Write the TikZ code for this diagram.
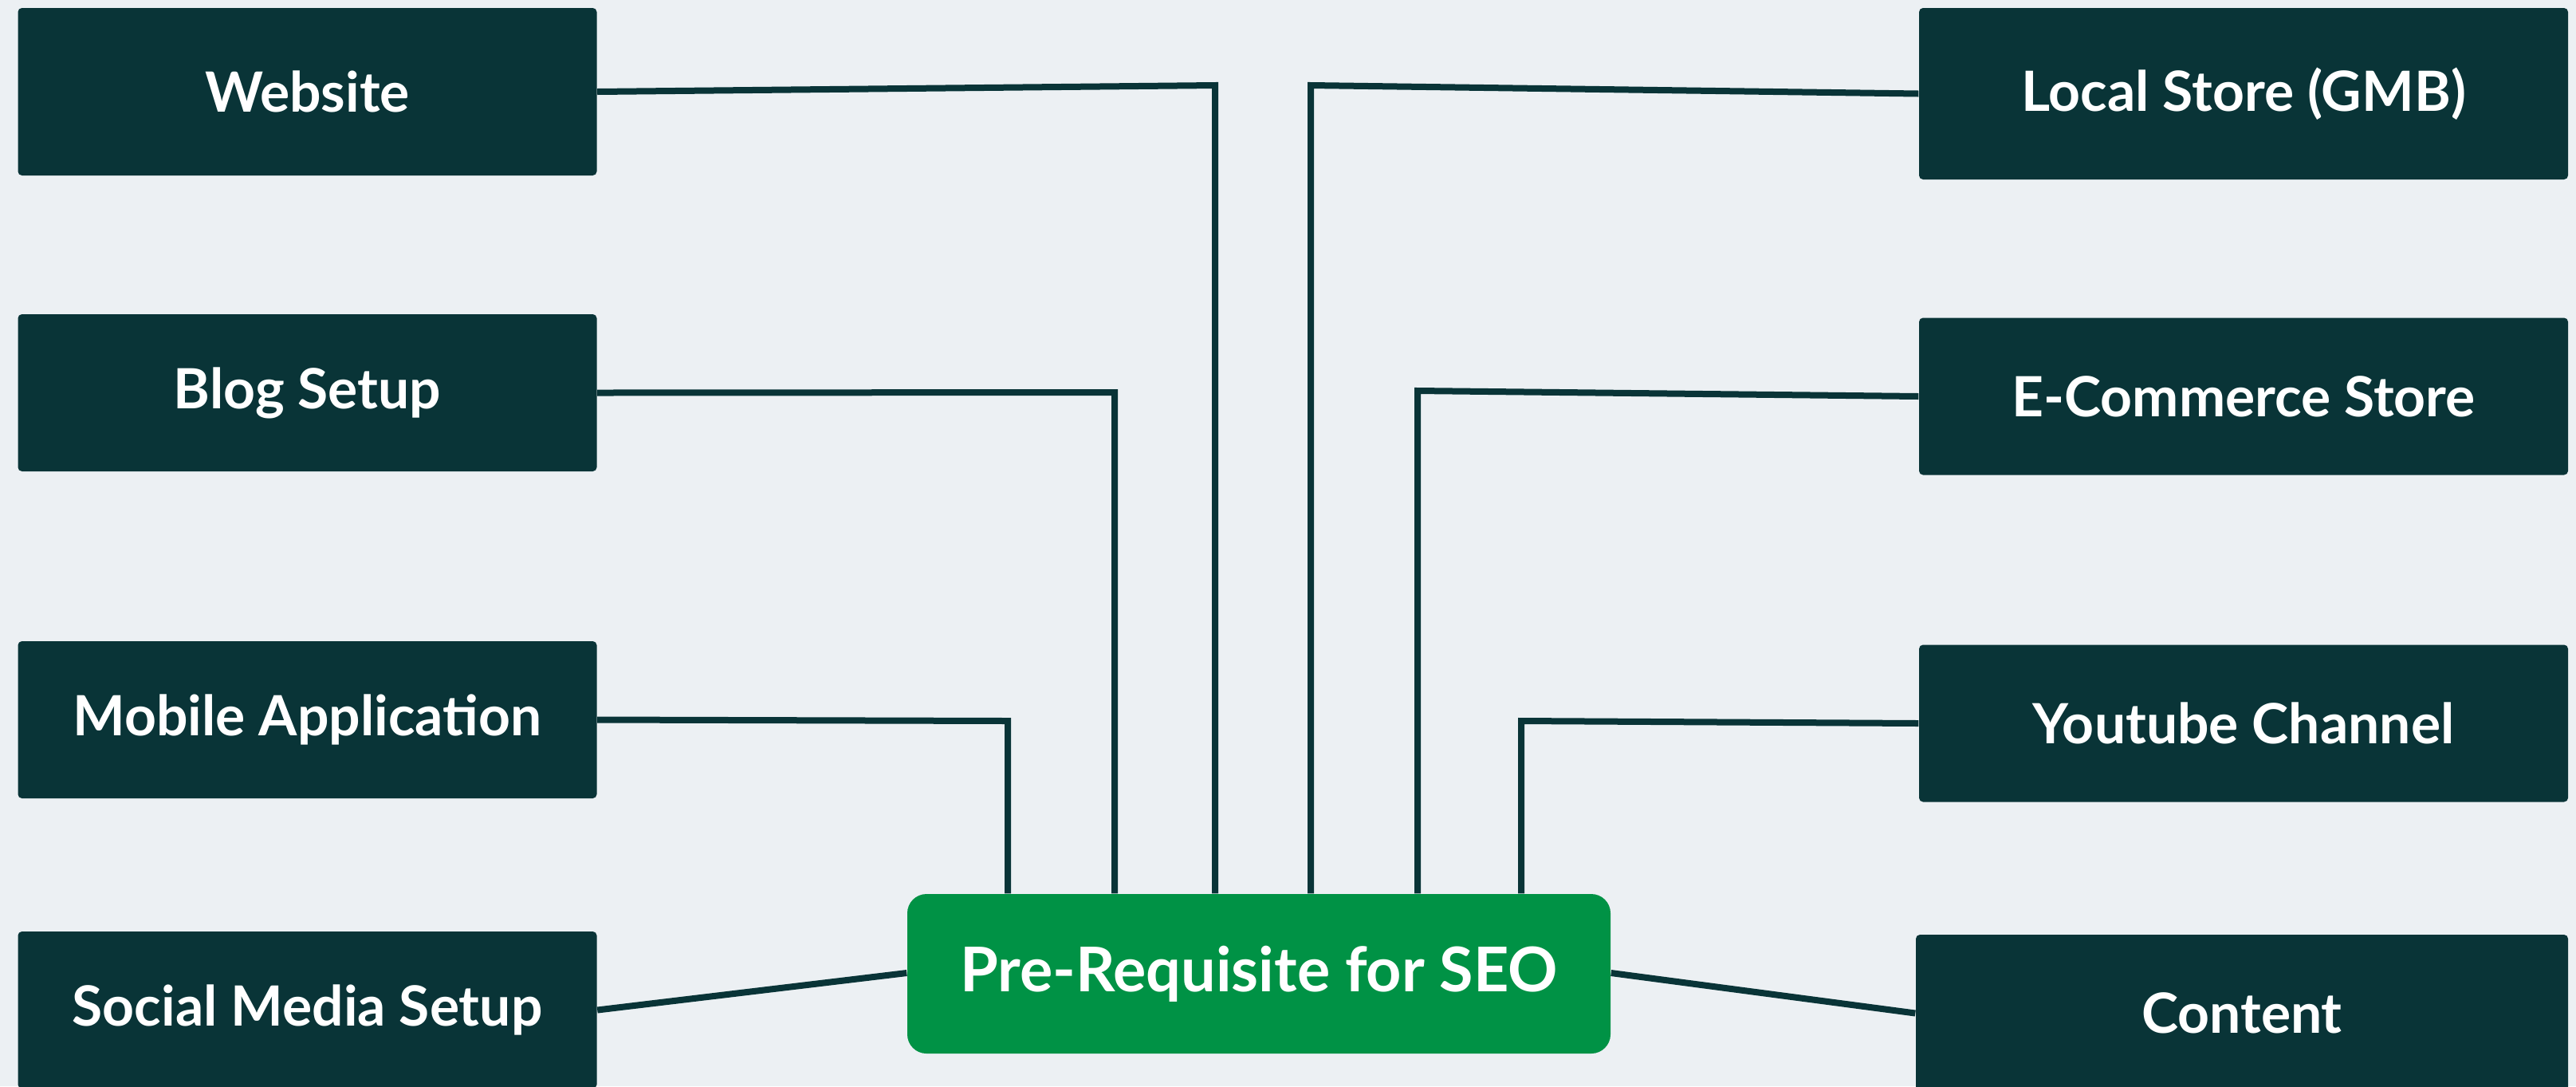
\documentclass[tikz,border=0pt]{standalone}
\usepackage{fontspec}
\setmainfont{Lato}
\definecolor{bgcol}{RGB}{236,240,243}
\definecolor{darkteal}{RGB}{9,52,55}
\definecolor{seogreen}{RGB}{0,146,69}
\tikzset{
  topic/.style={fill=darkteal,rounded corners=0.05cm,text=white,
    minimum width=7.26cm,minimum height=1.97cm,inner sep=0pt,
    font=\fontsize{19.8}{24}\selectfont\bfseries},
  hub/.style={fill=seogreen,rounded corners=0.24cm,text=white,
    minimum width=8.82cm,minimum height=2.0cm,inner sep=0pt,
    font=\fontsize{22}{26}\selectfont\bfseries},
  link/.style={draw=darkteal,line width=0.08cm}
}
\begin{document}
\begin{tikzpicture}
\useasboundingbox (0,0) rectangle (32.31,-13.62);
\clip (0,0) rectangle (32.31,-13.62);
\fill[bgcol] (0,0) rectangle (32.31,-13.62);

% bend points of the connectors
\coordinate (cweb) at (15.24,-1.07);
\coordinate (cblog) at (13.98,-4.92);
\coordinate (cmob) at (12.64,-9.04);
\coordinate (cloc) at (16.44,-1.07);
\coordinate (cshop) at (17.78,-4.90);
\coordinate (ctube) at (19.08,-9.04);

% hub
\node[hub] (seo) at (15.79,-12.21) {Pre-Requisite for SEO};

% left column
\node[topic,minimum height=2.10cm] (web) at (3.855,-1.15) {Website};
\node[topic] (blog) at (3.855,-4.925) {Blog Setup};
\node[topic] (mob) at (3.855,-9.025) {Mobile Application};
\node[topic] (social) at (3.855,-12.665) {Social Media Setup};

% right column
\node[topic,minimum width=8.14cm,minimum height=2.15cm] (loc) at (28.14,-1.175) {Local Store (GMB)};
\node[topic,minimum width=8.14cm] (shop) at (28.14,-4.97) {E-Commerce Store};
\node[topic,minimum width=8.14cm] (tube) at (28.14,-9.07) {Youtube Channel};
\node[topic,minimum width=8.18cm] (cont) at (28.12,-12.705) {Content};

\draw[link] (web.east) -- (cweb) -- (cweb |- seo.north);
\draw[link] (blog.east) -- (cblog) -- (cblog |- seo.north);
\draw[link] (mob.east) -- (cmob) -- (cmob |- seo.north);
\draw[link] (social.east) -- ([yshift=0.01cm]seo.west);
\draw[link] (loc.west) -- (cloc) -- (cloc |- seo.north);
\draw[link] (shop.west) -- (cshop) -- (cshop |- seo.north);
\draw[link] (tube.west) -- (ctube) -- (ctube |- seo.north);
\draw[link] (cont.west) -- ([yshift=0.01cm]seo.east);
\end{tikzpicture}
\end{document}
